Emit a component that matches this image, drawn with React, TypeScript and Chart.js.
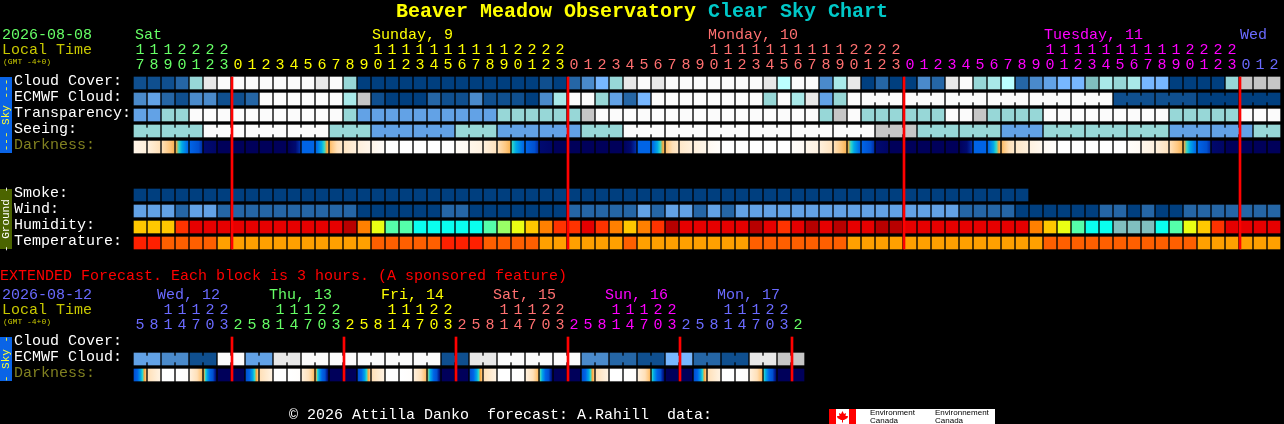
import React, { useEffect, useRef } from "react";
import { Chart, registerables } from "chart.js";

Chart.register(...registerables);

const FONT = '"Liberation Mono"';
const CLOUD_COLORS: Record<number, string> = {
  0: "#003f7f", 10: "#0f4f8f", 20: "#2566a6", 30: "#4a8acb", 40: "#62a2e6", 50: "#77b7ff",
  55: "#7fbfbf", 60: "#97d7d7", 70: "#a9e9e9", 75: "#bbffff", 80: "#c6c6c6", 90: "#e8e8e8", 100: "#fbfbfb",
};
const HUMIDITY_COLORS: Record<number, string> = {
  25: "#80bfbf", 30: "#0affee", 40: "#55ffaa", 45: "#99ff66", 50: "#eaff14", 55: "#ffc800",
  60: "#ff8000", 65: "#ff3300", 85: "#e60000", 95: "#b80000",
};
const TEMP_COLORS: Record<number, string> = { 24: "#ff2000", 22: "#ff5f00", 20: "#ffa000" };
const DARK_RAMP: [number, string][] = [
  [0, "#00005a"], [1, "#000a70"], [1.5, "#0028a0"], [2, "#0050d0"], [3, "#0064e6"], [4, "#00a8e8"], [4.5, "#30d8c8"],
  [5, "#f7a83c"], [5.5, "#ffc880"], [6, "#ffe0b8"], [7, "#fff0dc"], [8, "#fffaf4"], [9, "#ffffff"],
];

const TENS = [1,1,1,2,2,2,2," "," "," "," "," "," "," "," "," "," ",1,1,1,1,1,1,1,1,1,1,2,2,2,2," "," "," "," "," "," "," "," "," "," ",1,1,1,1,1,1,1,1,1,1,2,2,2,2," "," "," "," "," "," "," "," "," "," ",1,1,1,1,1,1,1,1,1,1,2,2,2,2," "," "," "];
const UNITS = [7,8,9,0,1,2,3,0,1,2,3,4,5,6,7,8,9,0,1,2,3,4,5,6,7,8,9,0,1,2,3,0,1,2,3,4,5,6,7,8,9,0,1,2,3,4,5,6,7,8,9,0,1,2,3,0,1,2,3,4,5,6,7,8,9,0,1,2,3,4,5,6,7,8,9,0,1,2,3,0,1,2];
const DAY_STARTS = [0, 7, 31, 55, 79];
const DAY_COLORS = ["#66ff66", "#ffff00", "#ff7070", "#ff00ff", "#6a6aff"];
const DAY_LABELS = ["Sat", "Sunday, 9", "Monday, 10", "Tuesday, 11", "Wed"];
const DAY_LABEL_X = [135, 372, 708, 1044, 1240];
const ROW_LABELS = ["Cloud Cover:", "ECMWF Cloud:", "Transparency:", "Seeing:", "Darkness:", "Smoke:", "Wind:", "Humidity:", "Temperature:"];
const ROW_SLOTS = [0, 1, 2, 3, 4, 7, 8, 9, 10];
const MIDNIGHTS = [7, 31, 55, 79];

const cloudCover = [10,10,10,20,60,90,100,100,100,100,100,100,100,90,100,60,0,0,0,0,0,0,0,0,0,0,0,0,0,10,0,20,30,50,60,90,100,90,100,100,100,100,100,100,100,90,75,100,100,30,70,90,0,20,0,0,30,20,90,100,60,70,75,20,30,40,50,50,55,70,60,70,50,50,0,0,0,0,60,80,80,80];
const ecmwfCloud = [30,40,20,10,30,30,10,10,20,100,100,100,100,100,100,70,80,10,0,0,0,20,10,10,30,10,10,10,0,30,70,100,100,60,40,20,50,100,100,100,100,100,100,100,100,60,100,70,90,40,60,100,100,100,100,100,100,100,100,100,100,100,100,100,100,100,100,100,100,100,10,10,10,10,10,10,0,0,0,0,0,0];
const transparency = [40,40,60,60,100,100,100,100,100,100,100,100,100,100,100,60,40,40,40,40,40,40,40,40,40,40,60,60,60,60,60,60,80,100,100,100,100,100,100,100,100,100,100,100,100,100,100,100,100,60,80,100,60,60,60,60,60,60,100,100,80,60,60,60,60,100,100,100,100,100,100,100,100,100,60,60,60,60,60,100,100,100];
const seeing = [60,60,60,60,60,100,100,100,100,100,100,100,100,100,60,60,60,40,40,40,40,40,40,60,60,60,40,40,40,40,40,40,60,60,60,100,100,100,100,100,100,100,100,100,100,100,100,100,100,100,100,100,100,80,80,80,60,60,60,60,60,60,40,40,40,60,60,60,60,60,60,60,60,60,40,40,40,40,40,40,60,60];
const darkStart = [7.5,7,6,5,3,1,0,0,0,0,0,0,3,3,5.3,6.3,7,7.6,9,9,9,9,9,8.3,7.6,7,6,4.5,3,1,0,0,0,0,0,0.2,3,3,5.4,6.5,7,7.8,9,9,9,9,9,8.5,7.6,7,6,5,3,1,0,0,0,0,0,0.2,3,3,5.3,6.5,7.2,8,9,9,9,9,9,8.5,7.6,7,6,5,3,0.8,0,0,0,0];
const darkEnd = [7,6,5.2,3,1.6,0.6,0,0,0,0,0,1.6,3,5.2,6.5,7,7.6,8.3,9,9,9,9,9,8,7.2,6.2,5.2,3,1.6,0.6,0,0,0,0,0,1.6,3,5.2,6.5,7,7.6,8.5,9,9,9,9,9,8,7.2,6.2,5.2,3,1.6,0.5,0,0,0,0,0,1.6,3,5.2,6.5,7,7.8,8.6,9,9,9,9,9,8,7.2,6.2,5.2,3,1.6,0.5,0,0,0,0];
const smoke = [0,0,0,0,0,0,0,0,0,0,0,0,0,0,0,0,0,0,0,0,0,0,0,0,0,0,0,0,0,0,0,0,0,0,0,0,0,0,0,0,0,0,0,0,0,0,0,0,0,0,0,0,0,0,0,0,0,0,0,0,0,0,0,0];
const wind = [40,40,40,20,40,40,20,20,20,20,20,20,20,20,20,20,0,0,0,0,0,0,20,20,0,0,0,0,0,0,0,20,20,20,20,20,40,20,40,40,20,40,20,40,40,40,40,40,40,40,40,40,40,40,40,40,40,40,40,20,20,20,20,0,0,0,0,0,0,20,20,0,20,0,0,20,20,20,20,20,20,20];
const humidity = [55,55,55,65,85,85,85,85,85,85,85,85,85,85,85,95,60,50,40,40,30,30,30,30,30,40,45,50,55,60,65,65,85,65,60,55,60,65,95,85,85,85,85,85,95,85,65,85,95,85,95,85,85,95,95,85,85,85,85,85,85,85,85,85,60,55,50,40,30,30,25,25,25,30,40,50,55,65,85,85,85,85];
const temperature = [24,24,22,22,22,22,20,20,20,20,20,20,20,20,20,20,20,22,22,22,22,22,24,24,24,22,22,22,22,20,20,20,20,20,20,22,20,20,20,20,20,20,20,20,22,22,22,22,22,22,22,20,20,20,20,20,20,20,20,20,20,20,20,20,20,22,22,22,22,22,22,22,22,22,22,22,20,20,20,20,20,20];

const EXT_TENS = [" "," ",1,1,1,2,2," "," "," ",1,1,1,2,2," "," "," ",1,1,1,2,2," "," "," ",1,1,1,2,2," "," "," ",1,1,1,2,2," "," "," ",1,1,1,2,2," "];
const EXT_UNITS = [5,8,1,4,7,0,3,2,5,8,1,4,7,0,3,2,5,8,1,4,7,0,3,2,5,8,1,4,7,0,3,2,5,8,1,4,7,0,3,2,5,8,1,4,7,0,3,2];
const EXT_DAY_STARTS = [0, 7, 15, 23, 31, 39, 47];
const EXT_DAY_COLORS = ["#6a6aff", "#66ff66", "#ffff00", "#ff7070", "#ff00ff", "#6a6aff", "#66ff66"];
const EXT_DAY_LABELS = ["Wed, 12", "Thu, 13", "Fri, 14", "Sat, 15", "Sun, 16", "Mon, 17"];
const EXT_LABEL_X = [157, 269, 381, 493, 605, 717];
const EXT_ROW_LABELS = ["Cloud Cover:", "ECMWF Cloud:", "Darkness:"];
const EXT_MIDNIGHTS = [7, 15, 23, 31, 39, 47];
const extEcmwf = [40,40,30,30,10,10,100,100,40,40,90,90,100,100,100,100,100,100,100,100,100,100,10,10,90,90,100,100,100,100,100,100,30,30,20,20,10,10,50,50,20,20,10,10,90,90,80,80];
const extDarkStart = [2,6,9,9,7,5,0,0,2,6,9,9,7,5,0,0,2,6,9,9,7,4.8,0,0,2,6,9,9,7,4.7,0,0,2,6,9,9,7,4.5,0,0,2,6,9,9,7,4.5,0,0];
const extDarkEnd = [5.5,7.2,9,8.6,5.3,1,0,0,5.5,7.2,9,8.6,5.3,1,0,0,5.5,7.2,9,8.6,5.3,1,0,0,5.5,7.2,9,8.6,5.3,1,0,0,5.5,7.2,9,8.6,5.3,1,0,0,5.5,7.2,9,8.6,5.3,1,0,0];

const mix = (a: string, b: string, t: number) => {
  const p = (s: string, i: number) => parseInt(s.slice(i, i + 2), 16);
  const c = [1, 3, 5].map((i) => Math.round(p(a, i) + (p(b, i) - p(a, i)) * t));
  return `rgb(${c[0]},${c[1]},${c[2]})`;
};
const rampColor = (v: number) => {
  if (v <= 0) return DARK_RAMP[0][1];
  for (let i = 1; i < DARK_RAMP.length; i++) {
    const [v0, c0] = DARK_RAMP[i - 1];
    const [v1, c1] = DARK_RAMP[i];
    if (v <= v1) return mix(c0, c1, (v - v0) / (v1 - v0));
  }
  return "#ffffff";
};
const darkFill = (starts: number[], ends: number[]) => (ctx: any) => {
  if (!ctx.raw) return "#000";
  const c = ctx.raw.x;
  const a = starts[c];
  const b = ends[c];
  const px = ctx.chart.scales.x.getPixelForValue(c);
  if (!Number.isFinite(px)) return rampColor(a);
  const g = ctx.chart.ctx.createLinearGradient(px - 6, 0, px + 6, 0);
  g.addColorStop(0, rampColor(a));
  if (a !== b) {
    DARK_RAMP.forEach(([v]) => {
      const t = (v - a) / (b - a);
      if (t > 0 && t < 1) g.addColorStop(t, rampColor(v));
    });
  }
  g.addColorStop(1, rampColor(b));
  return g;
};

const CELL = [0.125, 0.875];
const JOIN = [0.3125, 0.6875];
const cells = (values: number[], slot: number, colors: Record<number, string>) => ({
  grouped: false,
  barThickness: 12,
  order: 2,
  data: values.map((_, x) => ({ x, y: [slot + CELL[0], slot + CELL[1]] })),
  backgroundColor: values.map((v) => colors[v]),
});
const joinColumns = (groupStart: number, size: number, from: number, to: number) => {
  const out: number[] = [];
  for (let c = from; c < to; c++) if ((c - groupStart + 1) % size !== 0) out.push(c);
  return out;
};
const joins = (values: number[], slot: number, columns: number[]) => ({
  grouped: false,
  barThickness: 2,
  order: 2,
  data: columns.map((c) => ({ x: c + 0.5, y: [slot + JOIN[0], slot + JOIN[1]] })),
  backgroundColor: columns.map((c) => CLOUD_COLORS[values[c]]),
});
const darkCells = (starts: number[], ends: number[], slot: number) => ({
  grouped: false,
  barThickness: 12,
  order: 2,
  data: starts.map((_, x) => ({ x, y: [slot + CELL[0], slot + CELL[1]] })),
  backgroundColor: darkFill(starts, ends),
});
const redLines = (cols: number[], from: number, to: number) => ({
  grouped: false,
  barThickness: 2,
  order: 0,
  data: cols.map((c) => ({ x: c - 3 / 7, y: [from, to] })),
  backgroundColor: "#ff0000",
});

const colorBy = (starts: number[], colors: string[]) => (i: number) => {
  let k = 0;
  starts.forEach((s, j) => { if (i >= s) k = j; });
  return colors[k];
};

const buildOptions = (
  tens: any[], units: number[], tickColor: (i: number) => string, rowCount: number, slots: number[],
  labels: string[], top: number, bottom: number,
) => ({
  responsive: false,
  animation: false,
  devicePixelRatio: 1,
  layout: { padding: { left: 14, right: 3, top: top - 35, bottom } },
  plugins: { legend: { display: false }, tooltip: { enabled: false } },
  scales: {
    x: {
      type: "linear", position: "top", min: -0.5, max: 81.5, bounds: "data", offset: false,
      grid: { display: false, drawTicks: false, offset: false }, border: { display: false },
      afterBuildTicks: (axis: any) => { axis.ticks = units.map((_, value) => ({ value })); },
      afterFit: (axis: any) => { axis.height = 35; },
      ticks: {
        autoSkip: false, maxRotation: 0, minRotation: 0, padding: 2,
        font: { family: FONT, size: 15, lineHeight: 1 },
        color: (ctx: any) => tickColor(ctx.index),
        callback: (_: any, i: number) => [String(tens[i]), String(units[i])],
      },
    },
    y: {
      type: "linear", reverse: true, min: 0, max: rowCount,
      grid: { display: false, drawTicks: false }, border: { display: false },
      afterBuildTicks: (axis: any) => { axis.ticks = slots.map((s) => ({ value: s + 0.4 })); },
      afterFit: (axis: any) => { axis.width = 119; },
      ticks: {
        autoSkip: false, crossAlign: "far", padding: 0,
        font: { family: FONT, size: 15 },
        color: (ctx: any) => (labels[ctx.index] === "Darkness:" ? "#808020" : "#ffffff"),
        callback: (_: any, i: number) => labels[i],
      },
    },
  },
});

const text = (c: CanvasRenderingContext2D, s: string, x: number, y: number, color: string, size = 15, weight = "") => {
  c.font = `${weight} ${size}px ${FONT}`;
  c.fillStyle = color;
  c.textAlign = "left";
  c.textBaseline = "middle";
  c.fillText(s, x, y);
};
const sideBar = (c: CanvasRenderingContext2D, top: number, h: number, bg: string, fg: string, label: string) => {
  c.fillStyle = bg;
  c.fillRect(0, top, 12, h);
  c.save();
  c.translate(6, top + h / 2);
  c.rotate(-Math.PI / 2);
  c.font = `11px ${FONT}`;
  c.fillStyle = fg;
  c.textAlign = "center";
  c.textBaseline = "middle";
  c.fillText(label, 0, 0);
  c.restore();
};

const headPlugin = {
  id: "head",
  afterDraw(chart: any) {
    const c = chart.ctx as CanvasRenderingContext2D;
    text(c, "Beaver Meadow Observatory", 396, 12, "#ffff00", 20, "bold");
    text(c, "Clear Sky Chart", 708, 12, "#00c8c8", 20, "bold");
    text(c, "2026-08-08", 2, 35, "#66ff66");
    text(c, "Local Time", 2, 50, "#c8c800");
    text(c, "(GMT -4+0)", 3, 62, "#c8c800", 8);
    DAY_LABELS.forEach((d, i) => text(c, d, DAY_LABEL_X[i], 35, DAY_COLORS[i]));
    sideBar(c, 77, 76, "#0a64e6", "#ffff33", "--- Sky ---");
    sideBar(c, 189, 60, "#4b6400", "#ffffff", "- Ground -");
  },
};

const footPlugin = {
  id: "foot",
  afterDraw(chart: any) {
    const c = chart.ctx as CanvasRenderingContext2D;
    text(c, "EXTENDED Forecast. Each block is 3 hours. (A sponsored feature)", 0, 276, "#ff0000");
    text(c, "2026-08-12", 2, 295, "#6a6aff");
    text(c, "Local Time", 2, 310, "#c8c800");
    text(c, "(GMT -4+0)", 3, 322, "#c8c800", 8);
    EXT_DAY_LABELS.forEach((d, i) => text(c, d, EXT_LABEL_X[i], 295, EXT_DAY_COLORS[i]));
    sideBar(c, 337, 44, "#0a64e6", "#ffff33", "- Sky -");
    text(c, "\u00a9 2026 Attilla Danko  forecast: A.Rahill  data:", 289, 415, "#ffffff");
    c.fillStyle = "#ffffff";
    c.fillRect(829, 409, 166, 15);
    c.fillStyle = "#ff0000";
    c.fillRect(829, 409, 7, 15);
    c.fillRect(849, 409, 7, 15);
    c.beginPath();
    [[842.5,411],[844,414],[846,413],[845.5,416],[848,416],[847.5,418],[844,420],[843,420],[843,422.5],[842,422.5],[842,420],[841,420],[837.5,418],[837,416],[839.5,416],[839,413],[841,414]].forEach(([x, y], i) => (i ? c.lineTo(x, y) : c.moveTo(x, y)));
    c.closePath();
    c.fill();
    c.fillStyle = "#000000";
    c.font = '8px "Liberation Sans"';
    c.textAlign = "left";
    c.textBaseline = "middle";
    c.fillText("Environment", 870, 413);
    c.fillText("Canada", 870, 420.5);
    c.fillText("Environnement", 935, 413);
    c.fillText("Canada", 935, 420.5);
  },
};

export default function App() {
  const topRef = useRef<HTMLCanvasElement>(null);
  const bottomRef = useRef<HTMLCanvasElement>(null);

  useEffect(() => {
    document.body.style.background = "#000";
    document.body.style.margin = "0";
    const main = new Chart(topRef.current as any, {
      type: "bar",
      data: {
        datasets: [
          redLines(MIDNIGHTS, 0.125, 10.875),
          cells(cloudCover, 0, CLOUD_COLORS),
          cells(ecmwfCloud, 1, CLOUD_COLORS),
          joins(ecmwfCloud, 1, joinColumns(52, 3, 52, 81)),
          cells(transparency, 2, CLOUD_COLORS),
          cells(seeing, 3, CLOUD_COLORS),
          joins(seeing, 3, joinColumns(-1, 3, 0, 81)),
          darkCells(darkStart, darkEnd, 4),
          cells(smoke, 7, CLOUD_COLORS),
          cells(wind, 8, CLOUD_COLORS),
          cells(humidity, 9, HUMIDITY_COLORS),
          cells(temperature, 10, TEMP_COLORS),
        ] as any,
      },
      options: buildOptions(TENS, UNITS, colorBy(DAY_STARTS, DAY_COLORS), 11, ROW_SLOTS, ROW_LABELS, 75, 173) as any,
      plugins: [headPlugin],
    });
    const extended = new Chart(bottomRef.current as any, {
      type: "bar",
      data: {
        datasets: [
          redLines(EXT_MIDNIGHTS, 0.125, 2.875),
          cells(extEcmwf, 1, CLOUD_COLORS),
          joins(extEcmwf, 1, joinColumns(0, 2, 0, 47)),
          darkCells(extDarkStart, extDarkEnd, 2),
        ] as any,
      },
      options: buildOptions(EXT_TENS, EXT_UNITS, colorBy(EXT_DAY_STARTS, EXT_DAY_COLORS), 3, [0, 1, 2], EXT_ROW_LABELS, 335, 41) as any,
      plugins: [footPlugin],
    });
    return () => {
      main.destroy();
      extended.destroy();
    };
  }, []);

  const layer: React.CSSProperties = { position: "absolute", left: 0, top: 0, width: 1284, height: 424 };
  return (
    <div style={{ position: "fixed", left: 0, top: 0, width: 1284, height: 424, background: "#000", overflow: "hidden" }}>
      <canvas ref={topRef} width={1284} height={424} style={layer} />
      <canvas ref={bottomRef} width={1284} height={424} style={layer} />
    </div>
  );
}
